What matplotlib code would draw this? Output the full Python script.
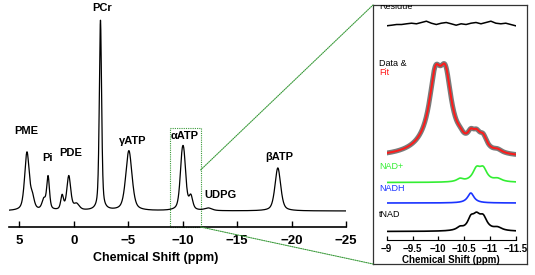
import numpy as np
import matplotlib
matplotlib.use("Agg")
import matplotlib.pyplot as plt
from matplotlib.patches import Rectangle, ConnectionPatch

plt.rcParams['font.family'] = ['Liberation Sans', 'DejaVu Sans']

# --------------------------
# Data
# --------------------------

# main 31P spectrum: peak centres (ppm), heights, widths (FWHM, ppm)
main_ppm = [4.3, 3.8, 2.75, 2.36, 1.07, 0.46, -0.25, -2.45, -5.06,
            -9.93, -10.13, -10.75, -12.35, -18.74]
main_height = [58, 11, 10, 33, 14, 34, 6, 190, 60,
               38, 38, 13, 2.5, 43]
main_width = [0.5, 0.4, 0.4, 0.3, 0.3, 0.42, 0.6, 0.25, 0.68,
              0.45, 0.45, 0.4, 0.8, 0.62]

peak_labels = ["PME", "Pi", "PDE", "PCr", "\u03b3ATP", "\u03b1ATP", "UDPG", "\u03b2ATP"]
label_ppm = [4.32, 2.4, 0.28, -2.58, -5.43, -10.2, -13.5, -18.85]
label_y = [80, 53, 58, 203, 70, 75, 16, 54]

main_ticks = [5, 0, -5, -10, -15, -20, -25]

# inset: alpha-ATP doublet (+ broad base) and NAD components
atp_ppm = [-9.94, -10.14, -10.05]
atp_height = [55, 55, 20]
atp_width = [0.27, 0.27, 0.8]

nadp_ppm = [-10.42, -10.74, -10.87, -11.15]
nadp_height = [3, 12, 12, 3]
nadp_width = [0.15, 0.18, 0.18, 0.2]

nadh_ppm = [-10.63]
nadh_height = [10]
nadh_width = [0.15]

residue = [-1.3, -0.7, 0.0, 0.0, 0.7, 1.3, 0.7, 2.0, 3.3, 1.3, 0.0, 1.3, 2.0,
           0.7, -0.7, 0.7, 0.0, 1.3, 2.0, 0.7, 2.0, 3.3, 1.3, 0.7, 1.3, 0.0, -1.3]

inset_ticks = [-9, -9.5, -10, -10.5, -11, -11.5]
inset_ticklabels = ["\u22129", "\u22129.5", "\u221210", "\u221210.5", "\u221211", "\u221211.5"]


def lorentz_sum(x, centres, heights, widths):
    y = np.zeros_like(x)
    for c, h, w in zip(centres, heights, widths):
        y += h / (1 + ((x - c) / (w / 2)) ** 2)
    return y


def voigt_sum(x, centres, heights, widths, eta=0.5):
    # pseudo-Voigt: Lorentzian tails, Gaussian-ish body
    y = np.zeros_like(x)
    for c, h, w in zip(centres, heights, widths):
        u = (x - c) / (w / 2)
        y += h * (eta / (1 + u ** 2) + (1 - eta) * np.exp(-np.log(2) * u ** 2))
    return y


W, H = 535, 275
fig = plt.figure(figsize=(W / 100, H / 100), dpi=100)

# --------------------------
# Main spectrum
# --------------------------
ax = fig.add_axes([9 / W, 1 - 227 / H, 337 / W, 217 / H])
x = np.linspace(5.95, -25, 3000)
ax.plot(x, voigt_sum(x, main_ppm, main_height, main_width), color='black', lw=0.9)
ax.set_xlim(5.95, -25)
ax.set_ylim(-16, 201)

for sp in ['top', 'right', 'left']:
    ax.spines[sp].set_visible(False)
ax.spines['bottom'].set_linewidth(1.2)
ax.set_yticks([])
ax.set_xticks(main_ticks)
ax.set_xticklabels(["5", "0", "\u22125", "\u221210", "\u221215", "\u221220", "\u221225"])
ax.tick_params(axis='x', direction='in', length=4, width=1, pad=6, labelsize=9.5)
for t in ax.get_xticklabels():
    t.set_fontweight('bold')
ax.set_xlabel("Chemical Shift (ppm)", fontsize=9, fontweight='bold')
ax.xaxis.set_label_coords(0.436, -0.143)
ax.xaxis.label.set_va('center')

for lab, px, py in zip(peak_labels, label_ppm, label_y):
    ax.text(px, py, lab, ha='center', va='center', fontsize=8, fontweight='bold',
            clip_on=False)

# zoom box
box = Rectangle((-8.8, 0), -2.85, 0.455, transform=ax.get_xaxis_transform(),
                fill=False, ec='#3a9a3a', lw=0.8, ls=(0, (1, 1)), clip_on=False)
ax.add_patch(box)

# --------------------------
# Inset
# --------------------------
frame = fig.add_axes([373 / W, 1 - 264 / H, 154 / W, 259 / H])
frame.set_xticks([])
frame.set_yticks([])
for sp in frame.spines.values():
    sp.set_linewidth(0.9)
    sp.set_color('#333333')
frame.patch.set_alpha(0)

ax_in = fig.add_axes([386.7 / W, 1 - 239.5 / H, 129 / W, 234.5 / H])
ax_in.patch.set_alpha(0)
xi = np.linspace(-9, -11.5, 600)
atp = lorentz_sum(xi, atp_ppm, atp_height, atp_width)
nadp = lorentz_sum(xi, nadp_ppm, nadp_height, nadp_width)
nadh = lorentz_sum(xi, nadh_ppm, nadh_height, nadh_width)
tnad = nadp + nadh
fit = atp + tnad

ax_in.plot(np.linspace(-9, -11.5, len(residue)), np.array(residue) + 215, color='black', lw=1.1)
ax_in.plot(xi, fit + 82, color='#7a7a7a', lw=3.5, solid_capstyle='round')
ax_in.plot(xi, fit + 82, color='#ff1a1a', lw=1.4)
ax_in.plot(xi, nadp + 57, color='#33ee33', lw=1.2)
ax_in.plot(xi, nadh + 36.5, color='#1a33ff', lw=1.2)
ax_in.plot(xi, tnad + 8, color='black', lw=1.2)

ax_in.set_xlim(-9, -11.5)
ax_in.set_ylim(0, 234.5)
for sp in ['top', 'right', 'left']:
    ax_in.spines[sp].set_visible(False)
ax_in.set_yticks([])
ax_in.set_xticks(inset_ticks)
ax_in.set_xticklabels(inset_ticklabels)
ax_in.tick_params(axis='x', direction='in', length=3, width=0.9, pad=3, labelsize=7)
for t in ax_in.get_xticklabels():
    t.set_fontweight('bold')
ax_in.set_xlabel("Chemical Shift (ppm)", fontsize=7, fontweight='bold', labelpad=1)

# series labels (in frame coordinates so "Residue" is clipped by the frame)
lx = 0.039
frame.text(lx, 0.985, "Residue", fontsize=6.5, ha='left', va='baseline', clip_on=True)
frame.text(lx, 0.775, "Data &", fontsize=6.5, ha='left', va='center')
frame.text(lx, 0.740, "Fit", fontsize=6.5, ha='left', va='center', color='#ff1a1a')
frame.text(lx, 0.377, "NAD+", fontsize=6.5, ha='left', va='center', color='#33ee33')
frame.text(lx, 0.293, "NADH", fontsize=6.5, ha='left', va='center', color='#1a33ff')
frame.text(lx, 0.190, "tNAD", fontsize=6.5, ha='left', va='center', color='black')

# connecting lines from zoom box to inset frame
for ya, yb in [(0.263, 1), (0, 0)]:
    con = ConnectionPatch(xyA=(-11.65, ya), coordsA=ax.get_xaxis_transform(),
                          xyB=(0, yb), coordsB=frame.transAxes,
                          color='#3a9a3a', lw=0.8, ls=(0, (1, 1)))
    fig.add_artist(con)

fig.savefig("out.png", dpi=100)
